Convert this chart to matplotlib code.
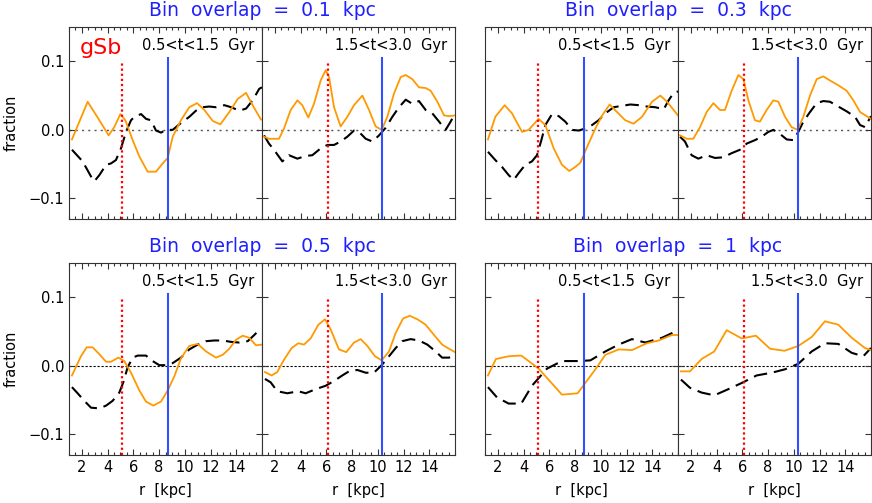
import matplotlib
matplotlib.use("Agg")
import matplotlib.pyplot as plt
from matplotlib.ticker import MultipleLocator, FixedLocator

######################### Data ############################
overlaps = ["0.1", "0.3", "0.5", "1"]
windows = ["0.5<t<1.5  Gyr", "1.5<t<3.0  Gyr"]

# red dotted and blue solid markers, one per time window
r_red = [5.15, 6.1]
r_blue = [8.72, 10.3]

# overlap 0.1 kpc, early window
o01a_r = [1.23, 2.45, 3.36, 4.08, 4.52, 4.99, 5.38, 5.95, 6.47, 7.11, 7.76, 8.28, 8.67, 9.06,
          9.7, 10.35, 10.95, 11.52, 12.17, 12.76, 13.46, 14.11, 14.76, 15.27, 15.92]
o01a_f = [-0.014, 0.041, 0.014, -0.008, 0.004, 0.023, 0.014, -0.015, -0.039, -0.061, -0.061,
          -0.049, -0.041, -0.010, 0.014, 0.033, 0.039, 0.029, 0.013, 0.008, 0.026, 0.045, 0.054,
          0.036, 0.015]
k01a_r = [1.23, 2.06, 2.71, 2.97, 3.36, 3.88, 4.26, 4.65, 5.04, 5.43, 5.82, 6.08, 6.6, 6.99,
          7.37, 7.76, 8.15, 8.54, 9.06, 9.7, 10.35, 10.87, 11.39, 11.9, 12.42, 13.07, 13.6,
          14.24, 14.76, 15.27, 15.79, 16.0]
k01a_f = [-0.029, -0.046, -0.068, -0.075, -0.066, -0.051, -0.049, -0.044, -0.027, -0.003,
          0.014, 0.019, 0.023, 0.016, 0.014, -0.001, -0.004, 0.0, 0.0, 0.010, 0.019, 0.028,
          0.033, 0.034, 0.033, 0.036, 0.033, 0.028, 0.031, 0.043, 0.060, 0.062]

# overlap 0.1 kpc, late window
o01b_r = [1.16, 1.54, 2.32, 2.71, 3.23, 3.75, 4.13, 4.6, 5.04, 5.56, 5.95, 6.21, 6.6, 7.11,
          7.63, 8.15, 8.8, 9.32, 9.83, 10.3, 10.74, 11.26, 11.78, 12.17, 12.68, 13.2, 13.72,
          14.11, 14.63, 15.15, 15.53, 16.0]
o01b_f = [-0.010, -0.013, -0.013, 0.002, 0.029, 0.043, 0.036, 0.018, 0.038, 0.072, 0.087,
          0.077, 0.033, 0.005, 0.019, 0.036, 0.050, 0.029, 0.005, 0.0, 0.019, 0.053, 0.077,
          0.080, 0.074, 0.062, 0.061, 0.057, 0.041, 0.021, 0.020, 0.021]
k01b_r = [1.16, 1.54, 1.93, 2.58, 3.1, 3.75, 4.39, 4.91, 5.56, 6.08, 6.6, 7.11, 7.63, 8.15,
          8.54, 9.06, 9.58, 10.1, 10.61, 11.13, 11.65, 12.17, 12.68, 13.2, 13.72, 14.24, 14.76,
          15.27, 15.66, 16.0]
k01b_f = [-0.008, -0.020, -0.029, -0.046, -0.037, -0.042, -0.038, -0.037, -0.027, -0.022,
          -0.022, -0.017, -0.010, -0.001, -0.003, -0.013, -0.017, -0.008, 0.003, 0.019, 0.033,
          0.044, 0.038, 0.042, 0.029, 0.024, 0.012, 0.0, 0.012, 0.024]

# overlap 0.3 kpc, early window
o03a_r = [1.23, 1.8, 2.53, 3.1, 3.88, 4.39, 5.17, 5.69, 6.34, 6.98, 7.55, 8.02, 8.41, 8.93,
          9.58, 10.1, 10.69, 11.26, 11.9, 12.55, 13.2, 13.98, 14.63, 15.15, 15.66, 16.0]
o03a_f = [-0.014, 0.019, 0.036, 0.024, -0.003, 0.0, 0.016, 0.007, -0.027, -0.051, -0.060,
          -0.054, -0.048, -0.025, 0.002, 0.021, 0.037, 0.026, 0.014, 0.009, 0.019, 0.041,
          0.050, 0.041, 0.029, 0.021]
k03a_r = [1.23, 1.8, 2.32, 2.84, 3.23, 3.62, 4.13, 4.65, 5.04, 5.38, 5.69, 6.21, 6.73, 7.24,
          7.76, 8.28, 8.8, 9.32, 9.83, 10.35, 11.0, 11.65, 12.3, 12.94, 13.59, 14.24, 14.89,
          15.27, 15.66, 16.0]
k03a_f = [-0.032, -0.044, -0.054, -0.066, -0.073, -0.063, -0.051, -0.046, -0.037, -0.015,
          0.007, 0.023, 0.020, 0.012, 0.0, -0.001, 0.002, 0.007, 0.014, 0.024, 0.033, 0.035,
          0.037, 0.036, 0.034, 0.033, 0.030, 0.043, 0.054, 0.056]

# overlap 0.3 kpc, late window
o03b_r = [1.16, 1.67, 2.19, 2.71, 3.23, 3.75, 4.26, 4.65, 5.17, 5.69, 6.08, 6.47, 6.98, 7.37,
          7.89, 8.41, 8.8, 9.32, 9.83, 10.3, 10.74, 11.26, 11.78, 12.3, 12.81, 13.46, 14.11,
          14.63, 15.15, 15.66, 16.0]
o03b_f = [-0.008, -0.013, -0.013, 0.004, 0.026, 0.039, 0.029, 0.029, 0.057, 0.080, 0.074,
          0.043, 0.014, 0.012, 0.029, 0.043, 0.041, 0.019, 0.004, 0.0, 0.019, 0.050, 0.074,
          0.078, 0.072, 0.065, 0.057, 0.043, 0.026, 0.020, 0.016]
k03b_r = [1.16, 1.54, 2.06, 2.58, 3.23, 3.88, 4.52, 5.17, 5.82, 6.34, 6.98, 7.5, 8.02, 8.41,
          8.93, 9.45, 9.97, 10.35, 10.74, 11.26, 11.78, 12.3, 12.81, 13.46, 14.11, 14.76,
          15.15, 15.53, 16.0]
k03b_f = [-0.010, -0.017, -0.037, -0.042, -0.037, -0.041, -0.040, -0.034, -0.029, -0.020,
          -0.015, -0.010, -0.003, 0.0, -0.006, -0.014, -0.015, -0.003, 0.012, 0.026, 0.039,
          0.042, 0.041, 0.034, 0.027, 0.019, 0.007, 0.004, 0.020]

# overlap 0.5 kpc, early window
o05a_r = [1.23, 1.93, 2.37, 2.84, 3.36, 3.88, 4.26, 4.83, 5.3, 5.82, 6.47, 6.98, 7.55, 8.15,
          8.67, 9.19, 9.7, 10.35, 11.0, 11.65, 12.42, 12.94, 13.46, 13.98, 14.5, 15.0, 15.53,
          16.0]
o05a_f = [-0.014, 0.014, 0.027, 0.027, 0.017, 0.006, 0.006, 0.012, 0.007, -0.010, -0.036,
          -0.052, -0.058, -0.052, -0.036, -0.015, 0.011, 0.029, 0.032, 0.021, 0.012, 0.016,
          0.025, 0.038, 0.044, 0.041, 0.030, 0.031]
k05a_r = [1.23, 1.67, 2.19, 2.71, 3.36, 3.88, 4.39, 4.91, 5.22, 5.56, 5.95, 6.34, 6.98, 7.5,
          8.02, 8.54, 9.06, 9.7, 10.35, 11.0, 11.65, 12.3, 12.94, 13.59, 14.24, 14.89, 15.4,
          15.92]
k05a_f = [-0.031, -0.040, -0.051, -0.061, -0.062, -0.058, -0.051, -0.039, -0.024, -0.002,
          0.012, 0.015, 0.015, 0.007, 0.001, 0.001, 0.004, 0.012, 0.024, 0.031, 0.036, 0.037,
          0.037, 0.035, 0.034, 0.036, 0.045, 0.055]

# overlap 0.5 kpc, late window
o05b_r = [1.23, 1.75, 2.19, 2.71, 3.31, 3.82, 4.26, 4.78, 5.38, 5.9, 6.34, 6.98, 7.55, 8.15,
          8.67, 9.19, 9.78, 10.3, 10.87, 11.39, 11.96, 12.48, 13.07, 13.72, 14.37, 15.0, 15.53,
          16.0]
o05b_f = [-0.009, -0.014, -0.009, 0.009, 0.026, 0.033, 0.031, 0.040, 0.060, 0.068, 0.053,
          0.024, 0.020, 0.034, 0.039, 0.029, 0.014, 0.008, 0.021, 0.048, 0.069, 0.073, 0.068,
          0.060, 0.045, 0.031, 0.025, 0.020]
k05b_r = [1.23, 1.67, 2.19, 2.97, 3.82, 4.39, 5.17, 5.95, 6.6, 7.24, 7.76, 8.41, 9.06, 9.7,
          10.3, 10.87, 11.39, 11.9, 12.55, 13.2, 13.85, 14.5, 15.0, 15.53, 16.0]
k05b_f = [-0.019, -0.024, -0.037, -0.040, -0.037, -0.040, -0.034, -0.029, -0.022, -0.014,
          -0.008, -0.006, -0.010, -0.010, 0.001, 0.014, 0.026, 0.036, 0.039, 0.037, 0.031,
          0.021, 0.012, 0.012, 0.015]

# overlap 1 kpc, early window
o1a_r = [1.23, 1.85, 2.84, 3.82, 5.17, 6.98, 8.2, 9.58, 10.35, 11.39, 12.42, 13.59, 14.5,
         15.53, 16.0]
o1a_f = [-0.014, 0.010, 0.014, 0.015, -0.004, -0.042, -0.040, -0.005, 0.016, 0.024, 0.023,
         0.033, 0.037, 0.045, 0.045]
k1a_r = [1.23, 1.93, 2.84, 3.82, 4.65, 5.82, 6.98, 8.28, 9.19, 10.35, 11.39, 12.42, 13.46,
         14.76, 15.79]
k1a_f = [-0.031, -0.046, -0.055, -0.055, -0.029, -0.004, 0.007, 0.007, 0.008, 0.021, 0.031,
         0.039, 0.034, 0.041, 0.050]

# overlap 1 kpc, late window
o1b_r = [1.23, 1.93, 2.84, 3.82, 4.78, 5.95, 7.06, 8.15, 9.27, 10.35, 11.39, 12.42, 13.46,
         14.5, 15.53, 16.0]
o1b_f = [-0.008, -0.008, 0.010, 0.021, 0.052, 0.040, 0.044, 0.025, 0.022, 0.029, 0.042, 0.065,
         0.060, 0.041, 0.026, 0.023]
k1b_r = [1.23, 1.93, 2.84, 3.82, 4.91, 5.95, 7.11, 8.28, 9.32, 10.35, 11.39, 12.42, 13.46,
         14.5, 15.4, 16.0]
k1b_f = [-0.020, -0.032, -0.039, -0.043, -0.034, -0.025, -0.014, -0.010, -0.005, 0.003, 0.021,
         0.033, 0.032, 0.019, 0.014, 0.026]

curves = {
    ("0.1", 0): (o01a_r, o01a_f, k01a_r, k01a_f),
    ("0.1", 1): (o01b_r, o01b_f, k01b_r, k01b_f),
    ("0.3", 0): (o03a_r, o03a_f, k03a_r, k03a_f),
    ("0.3", 1): (o03b_r, o03b_f, k03b_r, k03b_f),
    ("0.5", 0): (o05a_r, o05a_f, k05a_r, k05a_f),
    ("0.5", 1): (o05b_r, o05b_f, k05b_r, k05b_f),
    ("1", 0): (o1a_r, o1a_f, k1a_r, k1a_f),
    ("1", 1): (o1b_r, o1b_f, k1b_r, k1b_f),
}

######################### Plot ############################
plt.rcParams['font.family'] = ['DejaVu Sans']
W, H = 872, 503
fig = plt.figure(figsize=(W / 100, H / 100), dpi=100)

ORANGE = "#ff9900"
BLUE = "#3050ff"
TITLE_BLUE = "#1f1fff"

group_left = [69, 485]
group_top = [27, 263]
pw, ph = 193, 192

for g, ov in enumerate(overlaps):
    col = g % 2
    row = g // 2
    x0 = group_left[col]
    y0 = group_top[row]
    for w in range(2):
        left = (x0 + w * pw) / W
        bottom = 1 - (y0 + ph) / H
        ax = fig.add_axes([left, bottom, pw / W, ph / H])
        o_r, o_f, k_r, k_f = curves[(ov, w)]

        # zero line
        if row == 0:
            ax.axhline(0, color="#555555", lw=1.0, linestyle=(0, (1.5, 3)), zorder=1)
        else:
            ax.axhline(0, color="k", lw=0.8, linestyle=(0, (2, 1.6)), zorder=1)

        ax.plot(k_r, k_f, color="k", lw=1.5, linestyle=(0, (6.5, 3.3)), zorder=3)
        ax.plot(o_r, o_f, color=ORANGE, lw=1.3, zorder=4)

        ax.plot([r_red[w], r_red[w]], [-0.13, 0.1], color="red", lw=1.6,
                linestyle=(0, (1, 1.3)), zorder=5)
        ax.plot([r_blue[w], r_blue[w]], [-0.13, 0.105], color=BLUE, lw=1.5, zorder=5)

        ax.set_xlim(1, 16)
        ax.set_ylim(-0.13, 0.15)
        ax.xaxis.set_major_locator(FixedLocator([2, 4, 6, 8, 10, 12, 14]))
        ax.xaxis.set_minor_locator(MultipleLocator(0.5))
        ax.yaxis.set_major_locator(FixedLocator([-0.1, 0.0, 0.1]))
        ax.tick_params(which="both", direction="in", top=True, right=True, width=0.8,
                       labelsize=10.5, color="#333333")
        ax.tick_params(which="major", length=4)
        ax.tick_params(which="minor", length=2)
        for sp in ax.spines.values():
            sp.set_linewidth(0.8)
            sp.set_color("#333333")

        if col == 0 and w == 0:
            ax.set_yticklabels(["\u22120.1", "0.0", "0.1"])
            ax.set_ylabel("fraction", fontsize=10.5, labelpad=7)
        else:
            ax.set_yticklabels([])
        if row == 1:
            ax.set_xticklabels(["2", "4", "6", "8", "10", "12", "14"])
            ax.set_xlabel("r  [kpc]", fontsize=10.5, labelpad=6)
        else:
            ax.set_xticklabels([])

        ax.text(0.96, 0.905, windows[w], transform=ax.transAxes, ha="right", va="center",
                fontsize=10.5)
        if g == 0 and w == 0:
            ax.text(0.055, 0.89, "gSb", transform=ax.transAxes, ha="left", va="center",
                    fontsize=16, color="red")

    fig.text((x0 + pw) / W, 1 - (y0 - 17) / H, "Bin  overlap  =  %s  kpc" % ov,
             ha="center", va="center", fontsize=13.5, color=TITLE_BLUE)

plt.savefig("out.png", dpi=100)
